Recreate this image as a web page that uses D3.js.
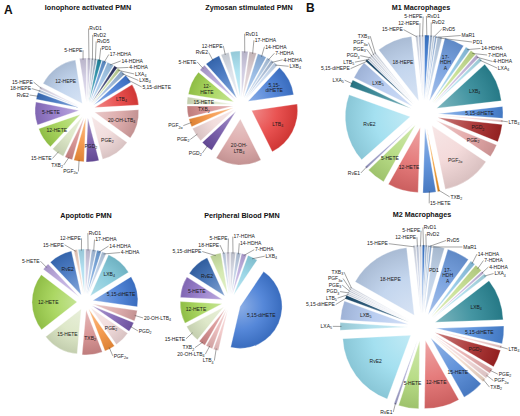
<!DOCTYPE html>
<html><head><meta charset="utf-8">
<script src="https://cdn.jsdelivr.net/npm/d3@7"></script>
<style>
body{margin:0;background:#fff}
svg{display:block;font-family:"Liberation Sans",Arial,sans-serif}
</style>
</head><body>
<svg id="c" width="520" height="416"></svg>
<script>
// ---------------- DATA ----------------
const titles = ["Ionophore activated PMN","Zymosan stimulated PMN","M1 Macrophages","Apoptotic PMN","Peripheral Blood PMN","M2 Macrophages"];
const panelLetters = ["A","B"];

const ionoCategories = ["RvD1","RvD2","RvD5","PD1","17-HDHA","14-HDHA","4-HDHA","LXA_4","LXB_4","5,15-diHETE","LTB_4","20-OH-LTB_4","PGE_2","PGD_2","PGF_2α","TXB_2","15-HETE","12-HETE","5-HETE","RvE2","18-HEPE","15-HEPE","12-HEPE","5-HEPE"];
const ionoValues = [4,3,3,5,5,8,4,4,6,10,25,35,35,15,12,9,15,25,27,8,3,3,48,8];

const zymoCategories = ["RvD1","17-HDHA","14-HDHA","7-HDHA","4-HDHA","LXB_4","5,15-diHETE","LTB_4","20-OH-LTB_4","PGD_2","PGE_2","PGF_2α","TXB_2","15-HETE","12-HETE","5-HETE","RvE2","12-HEPE","18-HEPE"];
const zymoValues = [8,9,11,5,4,5,38,70,57,15,18,10,14,9,30,8,19,10,12];

const apopCategories = ["RvD1","17-HDHA","14-HDHA","4-HDHA","LXB_4","5,15-diHETE","20-OH-LTB_4","PGD_2","PGE_2","PGF_2α","TXB_2","15-HETE","12-HETE","5-HETE","RvE2","15-HEPE","12-HEPE"];
const apopValues = [6,5,5,5,30,35,12,11,18,12,23,41,66,8,27,4,7];

const periCategories = ["17-HDHA","14-HDHA","7-HDHA","LXB_4","5,15-diHETE","LTB_4","20-OH-LTB_4","TXB_2","15-HETE","12-HETE","5-HETE","RvE2","5,15-diHEPE","18-HEPE","5-HEPE"];
const periValues = [6,5,6,12,135,6,8,8,20,26,25,28,13,4,4];

const macroCategories = ["RvD1","RvD2","RvD5","MaR1","PD1","17-HDHA","14-HDHA","7-HDHA","4-HDHA","LXA_4","LXB_4","5,15-diHETE","LTB_4","PGD_2","PGE_2","PGF_2α","TXB_2","15-HETE","12-HETE","5-HETE","RvE1","RvE2","LXA_5","LXB_5","5,15-diHEPE","LTB_5","PGD_3","PGE_3","PGF_3α","TXB_3","18-HEPE","15-HEPE","12-HEPE","5-HEPE"];
const m1Values = [4,2,1.5,1.5,4,17,4,5,3,3,34,10,2,15,11,42,2,11,26,16,2,58,6,15,2,1.5,1.5,1.5,1.5,1.5,30,2,2,2];
const m2Values = [2,1.5,1.5,1.5,9,18,4,6,2,3,33,14,2,14,4,4,3,17,28,16,2,62,6,15,3,1.2,1.2,1.2,1.2,1.2,50,2,2,2];

// ---------------- STYLE ----------------
const baseColors = {
  "RvD1":"#cbc6de","RvD2":"#b9c3d3","RvD5":"#9fb3c8","MaR1":"#8eb0dc","PD1":"#1f8aa5",
  "17-HDHA":"#5f93d0","14-HDHA":"#9cc3e6","7-HDHA":"#b9a8dc","4-HDHA":"#2d3466",
  "LXA_4":"#c3d69b","LXB_4":"#95b3d7","5,15-diHETE":"#3f78d4","LTB_4":"#e63c3a",
  "20-OH-LTB_4":"#d9a3a3","PGE_2":"#f0d8d8","PGD_2":"#6c4fa3","PGF_2α":"#f5903a",
  "TXB_2":"#d48a8a","15-HETE":"#d9e5c2","12-HETE":"#9fd24e","5-HETE":"#8e72c6",
  "RvE1":"#a0a0cc","RvE2":"#3a6fbe","18-HEPE":"#c4d2e8","15-HEPE":"#dcd6e6",
  "12-HEPE":"#bcd0ec","5-HEPE":"#cec8e0","5,15-diHEPE":"#cfe6a6"
};
const zymoColors = Object.assign({}, baseColors, {"17-HDHA":"#d8c8cc","14-HDHA":"#8db4e2","7-HDHA":"#b0c8e4","4-HDHA":"#a9bdd8","LXB_4":"#c6d9f1","5-HETE":"#b3a2d8","12-HEPE":"#d9dfe8","18-HEPE":"#a6e0f0"});
const apopColors = Object.assign({}, baseColors, {"17-HDHA":"#a8c0e0","14-HDHA":"#6fa0d8","4-HDHA":"#b8cce4","LXB_4":"#7cc6d8","5-HETE":"#b8a4dc","PGD_2":"#7a5cb0","15-HEPE":"#f0d0c0","12-HEPE":"#a8dcef"});
const periColors = Object.assign({}, baseColors, {"17-HDHA":"#d0d4e0","14-HDHA":"#b8c8e0","LXB_4":"#8ed2e4","LTB_4":"#f0c4c4","20-OH-LTB_4":"#e8b4b4","RvE2":"#3568b0","5-HEPE":"#d8d4e4"});
const m1Colors = {
  "RvD1":"#3d7ad0","RvD2":"#a0b8d8","RvD5":"#c0d0e4","MaR1":"#8eb0dc","PD1":"#b8cce4","17-HDHA":"#6a98dc",
  "14-HDHA":"#8ec6e6","7-HDHA":"#c4de8c","4-HDHA":"#c4b4dc","LXA_4":"#aadcea","LXB_4":"#2a8795",
  "5,15-diHETE":"#4a86d8","LTB_4":"#f2cccc","PGD_2":"#a32424","PGE_2":"#e0a0a0","PGF_2α":"#f2d6d6",
  "TXB_2":"#f0901c","15-HETE":"#4f86d6","12-HETE":"#e26a6a","5-HETE":"#b0d878","RvE1":"#a0a0cc",
  "RvE2":"#98dcee","LXA_5":"#2a7f8e","LXB_5":"#b0c6ee","5,15-diHEPE":"#1e4e70","LTB_5":"#d0d8e8",
  "PGD_3":"#dfe3ec","PGE_3":"#cfd6e4","PGF_3α":"#e4e8f0","TXB_3":"#d6dce8","18-HEPE":"#bcd0ec",
  "15-HEPE":"#d6dcea","12-HEPE":"#c8d2e6","5-HEPE":"#dde2ee"
};
const m2Colors = Object.assign({}, m1Colors, {"LXA_5":"#a6dcea","PGE_2":"#e6aaaa","TXB_2":"#f4dccc","4-HDHA":"#c8b8e0"});

const panels = [
  {title:titles[0], tx:88, ty:10, cats:ionoCategories, vals:ionoValues, colors:baseColors, cx:87, cy:110, R:44, e:8,
   inside:["12-HEPE","5-HETE","12-HETE","PGD_2","PGE_2","20-OH-LTB_4","LTB_4"], wraps:{}, hidden:[], explode:{}},
  {title:titles[1], tx:249, ty:10, cats:zymoCategories, vals:zymoValues, colors:zymoColors, cx:241, cy:105, R:46, e:8,
   inside:["5,15-diHETE","LTB_4","20-OH-LTB_4","12-HETE","15-HETE","TXB_2"],
   wraps:{"5,15-diHETE":["5,15-","diHETE"],"20-OH-LTB_4":["20-OH-","LTB_4"],"12-HETE":["12-","HETE"]}, hidden:["18-HEPE"],
   explode:{"LTB_4":12,"20-OH-LTB_4":14}},
  {title:titles[2], tx:421, ty:10, cats:macroCategories, vals:m1Values, colors:m1Colors, cx:424, cy:114, R:65, e:14,
   inside:["17-HDHA","LXB_4","5,15-diHETE","PGD_2","PGE_2","PGF_2α","12-HETE","5-HETE","RvE2","LXB_5","18-HEPE"],
   wraps:{"17-HDHA":["17-","HDH","A"]}, hidden:[], explode:{}},
  {title:titles[3], tx:86, ty:218, cats:apopCategories, vals:apopValues, colors:apopColors, cx:85, cy:302, R:45, e:8,
   inside:["LXB_4","5,15-diHETE","PGE_2","TXB_2","15-HETE","12-HETE","RvE2"], wraps:{}, hidden:[], explode:{}},
  {title:titles[4], tx:242, ty:218, cats:periCategories, vals:periValues, colors:periColors, cx:230, cy:302, R:42, e:8,
   inside:["5,15-diHETE","RvE2","5-HETE","12-HETE"], wraps:{}, hidden:[], explode:{"5,15-diHETE":11}},
  {title:titles[5], tx:422, ty:217, cats:macroCategories, vals:m2Values, colors:m2Colors, cx:422, cy:327, R:68, e:14,
   inside:["PD1","17-HDHA","LXB_4","5,15-diHETE","PGD_2","15-HETE","12-HETE","5-HETE","RvE2","LXB_5","18-HEPE"],
   wraps:{"17-HDHA":["17-","HDH","A"]}, hidden:[], explode:{}}
];

// ---------------- DRAW ----------------
const svg = d3.select("#c");
const defs = svg.append("defs");
const FS = 5;
let gradId = 0;

function gradientFor(color, R) {
  const id = "g" + (gradId++);
  const c = d3.color(color);
  const rg = defs.append("radialGradient").attr("id", id)
    .attr("gradientUnits","userSpaceOnUse").attr("cx",0).attr("cy",0).attr("r",R).attr("fx",0).attr("fy",0);
  rg.append("stop").attr("offset","0").attr("stop-color", d3.interpolateRgb(c, "#fff")(0.4));
  rg.append("stop").attr("offset","0.55").attr("stop-color", d3.interpolateRgb(c, "#fff")(0.12));
  rg.append("stop").attr("offset","1").attr("stop-color", c.darker(0.3).formatHex());
  return `url(#${id})`;
}

function addLabelText(sel, label) {
  const parts = label.split("_");
  sel.append("tspan").text(parts[0]);
  if (parts.length > 1) {
    sel.append("tspan").attr("font-size", FS*0.72).attr("dy", 1.2).text(parts[1]);
  }
}
function labelWidth(label) {
  const parts = label.split("_");
  return parts[0].length*FS*0.56 + (parts[1] ? parts[1].length*FS*0.72*0.56 : 0);
}

function drawPanel(p) {
  svg.append("text").attr("x", p.tx).attr("y", p.ty).attr("text-anchor","middle")
    .attr("font-size", 7.2).attr("font-weight","bold").attr("fill","#111").text(p.title);

  const data = p.cats.map((c,i)=>({name:c, v:p.vals[i]}));
  const pie = d3.pie().sort(null).value(d=>d.v);
  const arcs = pie(data);
  arcs.forEach(a=>{
    a.mid=(a.startAngle+a.endAngle)/2; a.ux=Math.sin(a.mid); a.uy=-Math.cos(a.mid);
    a.ex = p.explode[a.data.name] !== undefined ? p.explode[a.data.name] : p.e;
  });
  const arc = d3.arc().innerRadius(0).outerRadius(p.R);
  const g = svg.append("g").attr("transform", `translate(${p.cx},${p.cy})`);

  g.selectAll("path.slice").data(arcs).join("path").attr("class","slice")
    .attr("d", arc)
    .attr("transform", a=>`translate(${a.ux*a.ex},${a.uy*a.ex})`)
    .attr("fill", a=>gradientFor(p.colors[a.data.name] || "#ccc", p.R))
    .attr("stroke","#ffffff").attr("stroke-width",0.3);

  // inside labels
  arcs.filter(a=>p.inside.includes(a.data.name)).forEach(a=>{
    const span = a.endAngle - a.startAngle;
    const k = span > 1.5 ? 0.55 : 0.64;
    const r = a.ex + p.R*k;
    const x = a.ux*r, y = a.uy*r;
    const lines = p.wraps[a.data.name] || [a.data.name];
    const lh = FS*1.15;
    lines.forEach((ln,i)=>{
      const t = g.append("text").attr("x", x).attr("y", y + (i - (lines.length-1)/2)*lh + FS*0.35)
        .attr("text-anchor","middle").attr("font-size", FS).attr("fill","#1a1a1a");
      addLabelText(t, ln);
    });
  });

  // outside labels
  const rl = p.R + p.e + 8;
  const items = arcs.filter(a=>!p.inside.includes(a.data.name) && !p.hidden.includes(a.data.name)).map(a=>({
    a, name:a.data.name, side: a.ux >= 0 ? 1 : -1, x0: a.ux*rl, y0: a.uy*rl
  }));
  const gap = FS*1.3;
  const ymin = (p.ty + 6) - p.cy;
  [1,-1].forEach(side=>{
    const arr = items.filter(d=>d.side===side).sort((u,v)=>u.y0-v.y0);
    arr.forEach(d=>d.y=d.y0);
    for (let it=0; it<400; it++) {
      let moved=false;
      for (let i=1;i<arr.length;i++){
        const ov = arr[i-1].y + gap - arr[i].y;
        if (ov > 0.01) { arr[i-1].y -= ov/2; arr[i].y += ov/2; moved=true; }
      }
      if (!moved) break;
    }
    for (let i=0;i<arr.length;i++){
      if (i===0) arr[i].y = Math.max(arr[i].y, ymin);
      else arr[i].y = Math.max(arr[i].y, arr[i-1].y + gap);
    }
    arr.forEach(d=>{
      const s = Math.sqrt(Math.max(0, rl*rl - d.y*d.y));
      d.x = side * Math.max(s, Math.abs(d.x0));
      if (side > 0) {
        const maxX = 519 - p.cx - labelWidth(d.name);
        d.x = Math.min(d.x, maxX);
      } else {
        const minX = 1 - p.cx + labelWidth(d.name);
        d.x = Math.max(d.x, minX);
      }
    });
  });
  items.forEach(d=>{
    const ro = p.R + d.a.ex - 1.5;
    const sx = d.a.ux*ro, sy = d.a.uy*ro;
    const ex = d.x - d.side*0.8, ey = d.y;
    g.append("path").attr("d", `M${sx},${sy}L${ex},${ey}`)
      .attr("stroke","#333").attr("stroke-width",0.45).attr("fill","none");
    const t = g.append("text").attr("x", d.x).attr("y", d.y + FS*0.35)
      .attr("text-anchor", d.side>0 ? "start" : "end").attr("font-size", FS).attr("fill","#1a1a1a");
    addLabelText(t, d.name);
  });
}

panels.forEach(drawPanel);

svg.append("text").attr("x",4).attr("y",14).attr("font-size",12).attr("font-weight","bold").attr("fill","#111").text(panelLetters[0]);
svg.append("text").attr("x",306).attr("y",12).attr("font-size",12).attr("font-weight","bold").attr("fill","#111").text(panelLetters[1]);
</script>
</body></html>
